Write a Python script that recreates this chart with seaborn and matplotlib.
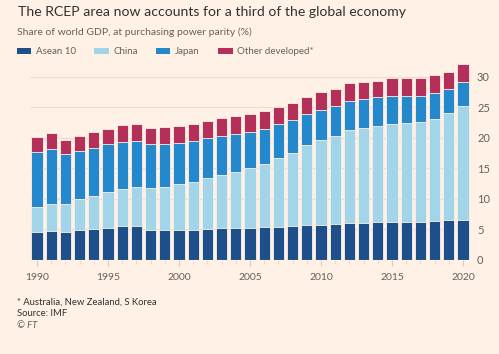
import matplotlib
matplotlib.use("Agg")
import matplotlib.pyplot as plt
import seaborn as sns
import pandas as pd
import numpy as np
from matplotlib.patches import Patch

years = list(range(1990, 2021))
asean = [4.5, 4.8, 4.6, 4.85, 5.05, 5.3, 5.5, 5.5, 4.95, 4.95, 4.95,
         4.95, 5.1, 5.2, 5.3, 5.3, 5.4, 5.45, 5.55, 5.7, 5.8,
         5.9, 6.05, 6.05, 6.15, 6.15, 6.2, 6.25, 6.3, 6.5, 6.55]
china = [4.1, 4.35, 4.5, 5.05, 5.45, 5.8, 6.1, 6.4, 6.85, 7.05, 7.45,
         7.8, 8.25, 8.7, 9.1, 9.7, 10.3, 11.25, 11.95, 13.1, 13.8,
         14.4, 15.15, 15.55, 15.75, 16.15, 16.2, 16.4, 16.85, 17.5, 18.65]
japan = [9.0, 9.05, 8.2, 7.9, 7.9, 7.8, 7.7, 7.5, 7.2, 7.0, 6.8,
         6.75, 6.55, 6.4, 6.2, 6.0, 5.8, 5.5, 5.4, 5.1, 5.0,
         4.9, 4.8, 4.8, 4.7, 4.6, 4.5, 4.25, 4.25, 4.0, 4.0]
other = [2.45, 2.5, 2.4, 2.5, 2.6, 2.6, 2.8, 2.8, 2.6, 2.7, 2.7,
         2.8, 2.9, 2.9, 2.9, 2.9, 2.8, 2.8, 2.8, 2.85, 2.85,
         2.85, 2.9, 2.7, 2.75, 2.8, 2.8, 2.8, 2.9, 2.8, 2.9]

series_names = ["Asean 10", "China", "Japan", "Other developed*"]
colors = ["#1D4F8A", "#A3D5EA", "#2389CC", "#B4305B"]

title = "The RCEP area now accounts for a third of the global economy"
subtitle = "Share of world GDP, at purchasing power parity (%)"
notes = ["* Australia, New Zealand, S Korea", "Source: IMF"]
credit = "© FT"

bg = "#FFF1E5"
text_dark = "#33302E"
text_grey = "#66605C"

df = pd.DataFrame({"year": years, "Asean 10": asean, "China": china,
                   "Japan": japan, "Other developed*": other})
cum = df[series_names].cumsum(axis=1)
cum["year"] = df["year"].astype(str)

sns.set_style("white")
plt.rcParams["font.family"] = ["Lato", "DejaVu Sans"]

fig = plt.figure(figsize=(4.99, 3.54), dpi=100, facecolor=bg)
ax = fig.add_axes([29.9 / 499, 94 / 354, 440.2 / 499, 201.7 / 354])
ax.set_facecolor(bg)

for name, col in reversed(list(zip(series_names, colors))):
    sns.barplot(data=cum, x="year", y=name, color=col, width=0.8,
                edgecolor=bg, linewidth=0.6, saturation=1, ax=ax, zorder=3)

ax.set_ylim(0, 33)
ax.set_xlim(-0.5, 30.5)
ax.set_xlabel("")
ax.set_ylabel("")
for s in ax.spines.values():
    s.set_visible(False)
ax.yaxis.tick_right()
ax.set_yticks([0, 5, 10, 15, 20, 25, 30])
ax.set_yticklabels(["0", "5", "10", "15", "20", "25", "30"])
ax.tick_params(axis="y", length=0, pad=5, labelsize=8, labelcolor=text_grey)
for v in [5, 10, 15, 20, 25, 30]:
    ax.axhline(v, color="#E9DCD0", lw=0.8, zorder=1)
ax.axhline(0, color="#C9BFB5", lw=0.8, zorder=4)

ax.set_xticks(range(0, 31, 5))
ax.set_xticklabels([str(y) for y in years[::5]])
ax.set_xticks(range(31), minor=True)
ax.tick_params(axis="x", which="major", length=4, color="#D5CCC2", pad=5,
               labelsize=7.5, labelcolor=text_grey, bottom=True)
ax.tick_params(axis="x", which="minor", length=3, color="#DED5CB", bottom=True)

fig.text(18 / 499, 1 - 12 / 354, title, fontsize=10.1, color=text_dark, va="center", ha="left")
fig.text(17 / 499, 1 - 32 / 354, subtitle, fontsize=7.5, color=text_grey, va="center", ha="left")

handles = [Patch(facecolor=c, edgecolor="none") for c in colors]
leg = fig.legend(handles, series_names, loc="center left",
                 bbox_to_anchor=(17 / 499, 1 - 52 / 354), ncol=4, frameon=False,
                 fontsize=7, handlelength=1.45, handleheight=0.5,
                 handletextpad=0.5, columnspacing=1.9, labelcolor=text_grey,
                 borderpad=0, borderaxespad=0)

fig.text(17 / 499, 1 - 302 / 354, notes[0], fontsize=6.8, color=text_dark, va="center")
fig.text(17 / 499, 1 - 314 / 354, notes[1], fontsize=6.8, color=text_dark, va="center")
fig.text(17 / 499, 1 - 326 / 354, credit, fontsize=6.8, color=text_grey, va="center", style="italic")

fig.savefig("out.png", dpi=100, facecolor=bg)
